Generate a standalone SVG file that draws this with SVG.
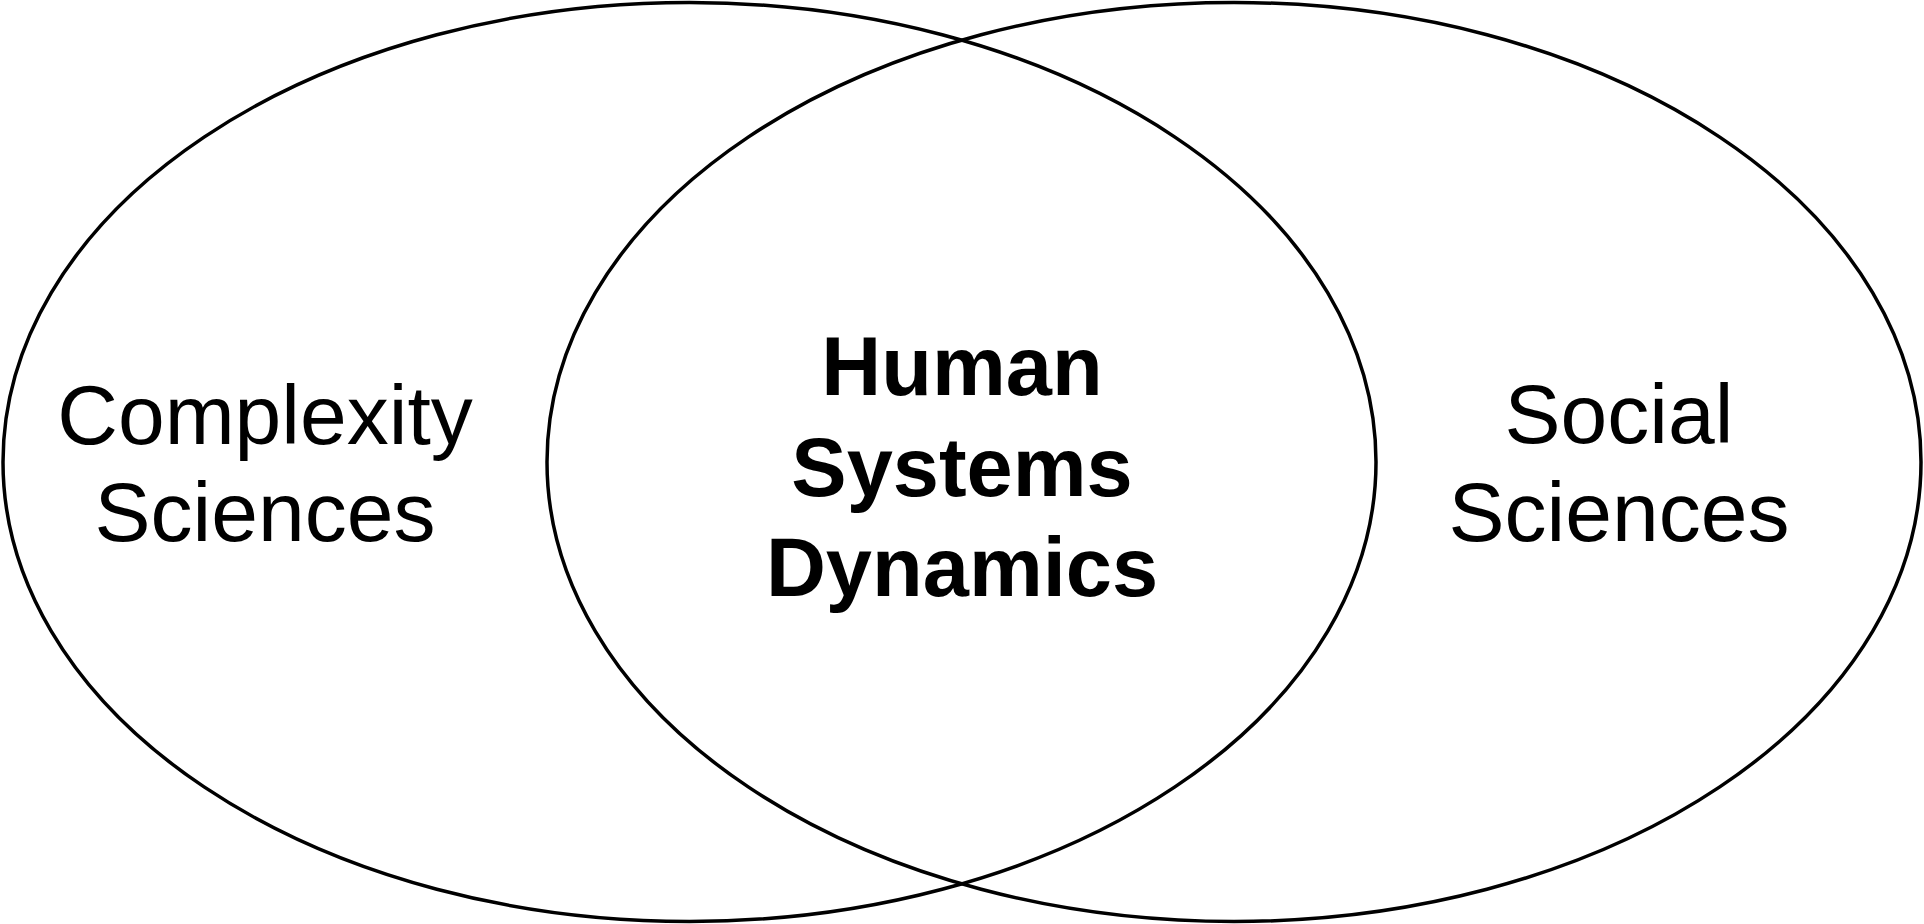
<svg xmlns="http://www.w3.org/2000/svg" width="1924" height="924" viewBox="0 0 1924 924">
<style>
.ring{fill:none;stroke:#000;stroke-width:3.5}
.lbl{font-family:"Liberation Sans",Arial,sans-serif;font-size:84px;fill:#000;text-anchor:middle}
.bold{font-weight:bold;font-size:83px}
</style>
<rect width="1924" height="924" fill="#fff"/>
<g id="connectors"></g>
<g id="complexity">
<ellipse class="ring" cx="689.5" cy="462" rx="686.5" ry="459.5"/>
<text class="lbl" x="265" y="444">Complexity</text>
<text class="lbl" x="265" y="541">Sciences</text>
</g>
<g id="social">
<ellipse class="ring" cx="1234" cy="462" rx="687" ry="459.5"/>
<text class="lbl" x="1619" y="443">Social</text>
<text class="lbl" x="1619" y="541">Sciences</text>
</g>
<g id="hsd">
<text class="lbl bold" x="962" y="395">Human</text>
<text class="lbl bold" x="962" y="496">Systems</text>
<text class="lbl bold" x="962" y="596">Dynamics</text>
</g>
</svg>
